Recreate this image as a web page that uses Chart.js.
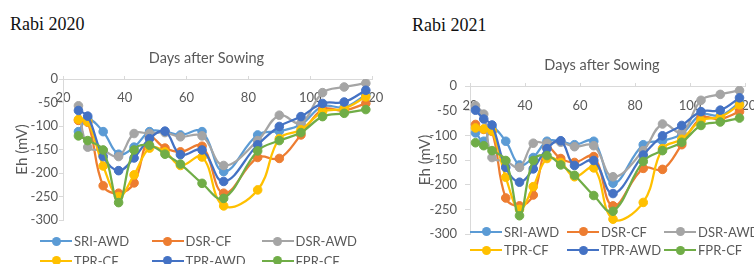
<!DOCTYPE html>
<html>
<head>
<meta charset="utf-8">
<script src="https://cdn.jsdelivr.net/npm/chart.js@4.4.1/dist/chart.umd.min.js"></script>
<style>
html,body{margin:0;padding:0;background:#fff;}
body{width:754px;height:264px;overflow:hidden;position:relative;font-family:Lato,sans-serif;}
.panel-title{position:absolute;font-family:"Liberation Serif","Times New Roman",serif;font-size:18px;color:#111;line-height:18px;white-space:nowrap;}
canvas{position:absolute;top:0;}
.item{position:absolute;display:flex;align-items:center;white-space:nowrap;height:16px;font-family:Lato,sans-serif;font-size:13px;line-height:16px;color:#595959;}
.mk{position:relative;width:32px;height:10px;margin-right:2px;flex:none;}
.mk .ln{position:absolute;left:0;right:0;top:4px;height:2.25px;}
.mk .dot{position:absolute;left:11.5px;top:0.5px;width:9px;height:9px;border-radius:50%;}
</style>
</head>
<body>
<div class="panel-title" style="left:10px;top:15px">Rabi 2020</div>
<div class="panel-title" style="left:412px;top:16px">Rabi 2021</div>
<canvas id="c2020" width="413" height="264" style="left:0px;width:413px;height:264px"></canvas>
<canvas id="c2021" width="450" height="264" style="left:377px;width:450px;height:264px"></canvas>
<div id="leg2020"></div>
<div id="leg2021"></div>
<script>
// ---------- data ----------
const seriesNames  = ['SRI-AWD','DSR-CF','DSR-AWD','TPR-CF','TPR-AWD','FPR-CF'];
const seriesColors = ['#5B9BD5','#ED7D31','#A5A5A5','#FFC000','#4472C4','#70AD47'];
const xTickValues  = [20,40,60,80,100,120];
const yTickValues  = [0,-50,-100,-150,-200,-250,-300];
const axisTitleX   = 'Days after Sowing';
const axisTitleY   = 'Eh (mV)';

const days2020   = [25,28,33,38,43,48,53,58,65,72,83,90,97,104,111,118];
const sriAwd2020 = [-112,-85,-112,-160,-145,-112,-112,-119,-112,-197,-119,-111,-97,-58,-60,-34];
const dsrCf2020  = [-88,-92,-227,-243,-221,-125,-147,-155,-143,-243,-167,-169,-119,-65,-67,-52];
const dsrAwd2020 = [-57,-145,-152,-165,-116,-116,-114,-123,-121,-184,-131,-77,-94,-29,-17,-9];
const tprCf2020  = [-86,-91,-185,-250,-204,-147,-155,-184,-166,-270,-236,-127,-108,-70,-63,-38];
const tprAwd2020 = [-67,-79,-165,-195,-168,-127,-111,-161,-151,-218,-140,-101,-80,-52,-49,-24];
const fprCf2020  = [-121,-131,-151,-263,-151,-141,-160,-181,-222,-254,-153,-131,-114,-80,-73,-65];

const days2021   = [22,25,28,33,38,43,48,53,58,65,72,83,90,97,104,111,118];
const sriAwd2021 = [-95,-112,-85,-112,-160,-145,-112,-112,-119,-112,-197,-119,-111,-97,-58,-60,-34];
const dsrCf2021  = [-78,-88,-92,-227,-243,-221,-125,-147,-155,-143,-243,-167,-169,-119,-65,-67,-52];
const dsrAwd2021 = [-40,-57,-145,-152,-165,-116,-116,-114,-123,-121,-184,-131,-77,-94,-29,-17,-9];
const tprCf2021  = [-85,-87,-91,-185,-250,-204,-147,-155,-184,-166,-270,-236,-127,-108,-70,-63,-38];
const tprAwd2021 = [-49,-67,-79,-165,-195,-168,-127,-111,-161,-151,-218,-140,-101,-80,-52,-49,-24];
const fprCf2021  = [-115,-121,-131,-151,-263,-151,-141,-160,-181,-222,-254,-153,-131,-114,-80,-73,-65];

// ---------- helpers ----------
const FONT = 'Lato, "Open Sans", sans-serif';
const TXT = '#595959';
const AXIS = '#D9D9D9';

function makeChart(id, days, values, geo) {
  const datasets = seriesNames.map((name, i) => ({
    label: name,
    data: days.map((d, j) => ({x: d, y: values[i][j]})),
    borderColor: seriesColors[i],
    backgroundColor: seriesColors[i],
    pointBackgroundColor: seriesColors[i],
    pointBorderColor: seriesColors[i],
    borderWidth: 2.25,
    pointRadius: geo.pr,
    pointBorderWidth: 1,
    tension: 0.4,
    order: seriesNames.length - i
  }));
  return new Chart(document.getElementById(id), {
    type: 'line',
    data: {datasets},
    options: {
      responsive: false,
      animation: false,
      devicePixelRatio: 1,
      layout: {padding: {top: 0, left: 0, right: 0, bottom: geo.padBottom}},
      plugins: {
        legend: {display: false},
        tooltip: {enabled: false},
        title: {
          display: true, text: axisTitleX, color: TXT,
          font: {family: FONT, size: 14.5, weight: 'normal'},
          padding: {top: geo.titleTop, bottom: geo.titleBottom}
        }
      },
      scales: {
        x: {
          type: 'linear', min: 20, max: 120, position: {y: 0},
          afterBuildTicks: s => { s.ticks = xTickValues.map(v => ({value: v})); },
          ticks: {color: TXT, font: {family: FONT, size: 13}, padding: geo.xPad, autoSkip: false, maxRotation: 0},
          grid: {display: true, drawOnChartArea: false, drawTicks: true, tickLength: -4, color: AXIS},
          border: {display: true, color: AXIS, width: 1}
        },
        y: {
          type: 'linear', min: -300, max: 0, position: 'left',
          afterBuildTicks: s => { s.ticks = yTickValues.map(v => ({value: v})); },
          afterFit: s => { s.width = geo.yW; },
          ticks: {color: TXT, font: {family: FONT, size: 13}, padding: geo.yPad},
          grid: {display: true, drawOnChartArea: false, drawTicks: true, tickLength: geo.yTl, color: AXIS},
          border: {display: true, color: AXIS, width: 1},
          title: {display: true, text: axisTitleY, color: TXT, font: {family: FONT, size: 15},
                  padding: {top: geo.yTitlePad, bottom: 0}}
        },
        pad: {
          type: 'linear', position: 'right', display: true,
          afterFit: s => { s.width = geo.rW; },
          ticks: {display: false}, grid: {display: false}, border: {display: false}
        }
      }
    }
  });
}

function makeLegend(id, cols, rows) {
  const host = document.getElementById(id);
  seriesNames.forEach((name, i) => {
    const el = document.createElement('div');
    el.className = 'item';
    el.style.left = cols[i % 3] + 'px';
    el.style.top = (rows[Math.floor(i / 3)] - 8) + 'px';
    el.innerHTML = '<span class="mk"><span class="ln" style="background:' + seriesColors[i] +
      '"></span><span class="dot" style="background:' + seriesColors[i] + '"></span></span>' +
      '<span class="tx"></span>';
    el.querySelector('.tx').textContent = name;
    host.appendChild(el);
  });
}

makeChart('c2020', days2020, [sriAwd2020, dsrCf2020, dsrAwd2020, tprCf2020, tprAwd2020, fprCf2020],
  {padBottom: 44, titleTop: 49.3, titleBottom: 12.3, xPad: 14.7, yW: 63, yPad: 1, yTl: 4, yTitlePad: 13, rW: 41, pr: 4.3});
makeChart('c2021', days2021, [sriAwd2021, dsrCf2021, dsrAwd2021, tprCf2021, tprAwd2021, fprCf2021],
  {padBottom: 30, titleTop: 56.3, titleBottom: 12.3, xPad: 16.2, yW: 93, yPad: 8, yTl: 5, yTitlePad: 39, rW: 82, pr: 4.3});

makeLegend('leg2020', [40, 151.5, 261.5], [241, 260.5]);
makeLegend('leg2021', [470, 567, 664], [231.7, 250]);
</script>
</body>
</html>
